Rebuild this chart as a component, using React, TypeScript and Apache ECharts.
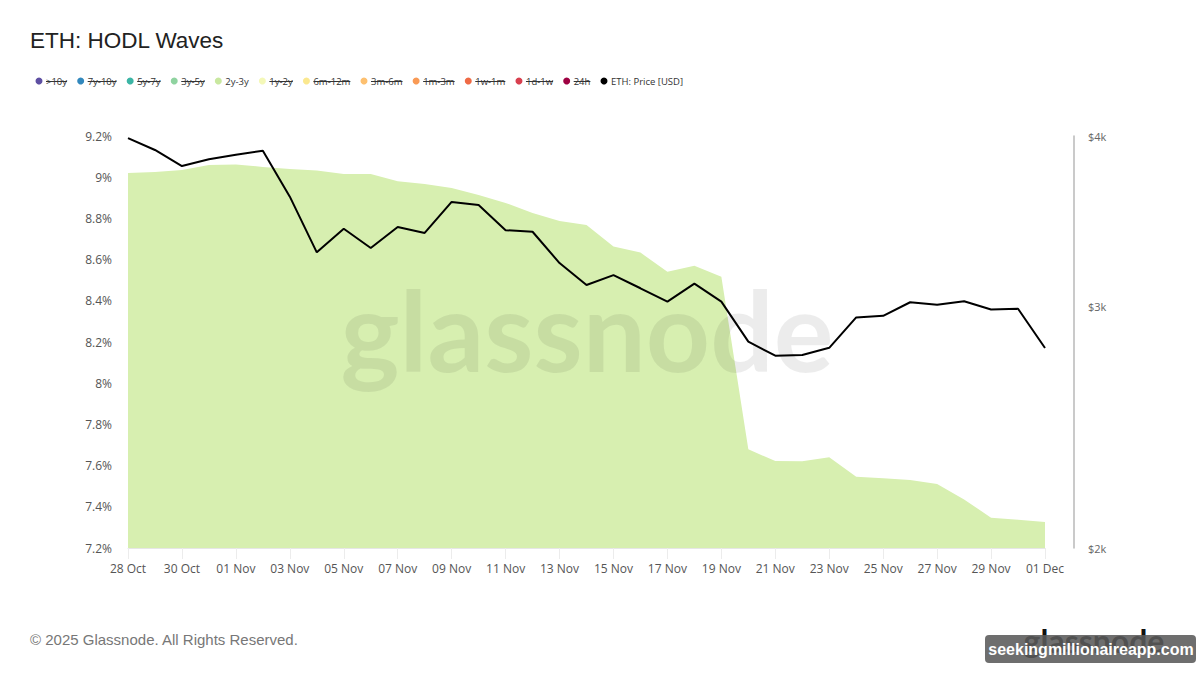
import React, { useEffect, useRef } from 'react';
import * as echarts from 'echarts';

const dates = [
  '28 Oct', '29 Oct', '30 Oct', '31 Oct', '01 Nov', '02 Nov', '03 Nov', '04 Nov', '05 Nov', '06 Nov',
  '07 Nov', '08 Nov', '09 Nov', '10 Nov', '11 Nov', '12 Nov', '13 Nov', '14 Nov', '15 Nov', '16 Nov',
  '17 Nov', '18 Nov', '19 Nov', '20 Nov', '21 Nov', '22 Nov', '23 Nov', '24 Nov', '25 Nov', '26 Nov',
  '27 Nov', '28 Nov', '29 Nov', '30 Nov', '01 Dec',
];

// 2y-3y supply share (%)
const hodl2y3y = [
  9.02, 9.025, 9.035, 9.059, 9.062, 9.05, 9.04, 9.033, 9.015, 9.015,
  8.98, 8.967, 8.948, 8.914, 8.875, 8.826, 8.787, 8.768, 8.663, 8.634,
  8.541, 8.57, 8.517, 7.679, 7.622, 7.621, 7.64, 7.546, 7.538, 7.53,
  7.511, 7.436, 7.347, 7.337, 7.326,
];

// ETH price (USD)
const ethPrice = [
  3986, 3907, 3803, 3846, 3876, 3902, 3612, 3289, 3422, 3313,
  3432, 3398, 3580, 3562, 3414, 3405, 3230, 3113, 3165, 3096,
  3027, 3120, 3027, 2830, 2764, 2767, 2801, 2948, 2956, 3024,
  3011, 3029, 2987, 2991, 2800,
];

const priceTicks = [2000, 3000, 4000];
const pctMin = 7.2;
const pctMax = 9.2;
const pctStep = 0.2;

const legendNames = ['>10y', '7y-10y', '5y-7y', '3y-5y', '2y-3y', '1y-2y', '6m-12m', '3m-6m', '1m-3m', '1w-1m', '1d-1w', '24h', 'ETH: Price [USD]'];
const legendColors = ['#5e4fa2', '#3288bd', '#3cb5a5', '#8fd3a0', '#c9e8a0', '#f4f8b8', '#fbe88f', '#fdc070', '#f99a55', '#ef6a45', '#d8404f', '#9e0142', '#000000'];
const legendActive = [false, false, false, false, true, false, false, false, false, false, false, false, true];

const AREA_COLOR = '#d7efb0';
const SANS = '"Open Sans", "Noto Sans", sans-serif';
const ARIAL = '"Liberation Sans", Arial, sans-serif';
const LEGEND_FONT = '9.5px "Open Sans", "Noto Sans", sans-serif';

function measure(text: string, font: string): number {
  const c = document.createElement('canvas');
  const ctx = c.getContext('2d');
  if (!ctx) return text.length * 5;
  ctx.font = font;
  return ctx.measureText(text).width;
}

export default function App() {
  const ref = useRef<HTMLDivElement>(null);

  useEffect(() => {
    if (!ref.current) return;
    const chart = echarts.init(ref.current, undefined, { renderer: 'svg' });

    // legend layout: first dot at 39, last dot at 604, evenly gapped
    const firstDot = 39;
    const lastDot = 604;
    const textOffset = 7;
    const widths = legendNames.map((n) => measure(n, LEGEND_FONT));
    let used = 0;
    for (let i = 0; i < legendNames.length - 1; i++) used += textOffset + widths[i];
    const gap = (lastDot - firstDot - used) / (legendNames.length - 1);

    const legendGraphics: any[] = [];
    let dx = firstDot;
    legendNames.forEach((name, i) => {
      const tx = dx + textOffset;
      legendGraphics.push({
        type: 'circle',
        shape: { cx: dx, cy: 81, r: 3.5 },
        style: { fill: legendColors[i] },
        silent: true,
      });
      legendGraphics.push({
        type: 'text',
        x: tx,
        y: 81,
        style: {
          text: name,
          fill: '#333',
          font: LEGEND_FONT,
          verticalAlign: 'middle',
          align: 'left',
        },
        silent: true,
      });
      if (!legendActive[i]) {
        legendGraphics.push({
          type: 'line',
          shape: { x1: tx, y1: 81.5, x2: tx + widths[i], y2: 81.5 },
          style: { stroke: '#333', lineWidth: 1 },
          silent: true,
        });
      }
      dx = tx + widths[i] + gap;
    });

    const option: any = {
      animation: false,
      backgroundColor: '#ffffff',
      title: {
        text: 'ETH: HODL Waves',
        left: 25,
        top: 24,
        textStyle: { fontFamily: ARIAL, fontSize: 22.5, fontWeight: 'normal', color: '#222' },
      },
      grid: { left: 128, right: 155, top: 136, bottom: 127, containLabel: false },
      xAxis: {
        type: 'category',
        data: dates,
        boundaryGap: false,
        axisLine: { show: true, lineStyle: { color: '#e6e6e6' } },
        axisTick: { show: true, interval: 1, length: 11, lineStyle: { color: '#ececec' } },
        axisLabel: { interval: 1, margin: 14, color: '#555', fontSize: 12, fontFamily: SANS },
        splitLine: { show: false },
      },
      yAxis: [
        {
          type: 'value',
          min: pctMin,
          max: pctMax,
          interval: pctStep,
          position: 'left',
          axisLine: { show: false },
          axisTick: { show: false },
          splitLine: { show: false },
          axisLabel: {
            margin: 16,
            color: '#555',
            fontSize: 12,
            fontFamily: SANS,
            formatter: (v: number) => parseFloat(v.toFixed(1)) + '%',
          },
        },
        {
          type: 'value',
          min: Math.log(priceTicks[0]),
          max: Math.log(priceTicks[priceTicks.length - 1]),
          position: 'right',
          offset: 29,
          axisLine: { show: true, lineStyle: { color: '#b8b8b8', width: 1.5 } },
          axisTick: { show: false },
          splitLine: { show: false },
          axisLabel: {
            customValues: priceTicks.map((p) => Math.log(p)),
            margin: 14,
            color: '#666',
            fontSize: 11,
            fontFamily: SANS,
            formatter: (v: number) => '$' + Math.round(Math.exp(v) / 1000) + 'k',
          },
        },
      ],
      series: [
        {
          name: '2y-3y',
          type: 'line',
          yAxisIndex: 0,
          data: hodl2y3y,
          symbol: 'none',
          lineStyle: { width: 0 },
          areaStyle: { color: AREA_COLOR, opacity: 1 },
          z: 2,
        },
        {
          name: 'ETH: Price [USD]',
          type: 'line',
          yAxisIndex: 1,
          data: ethPrice.map((p) => Math.log(p)),
          symbol: 'none',
          lineStyle: { color: '#000', width: 2 },
          z: 10,
        },
      ],
      graphic: [
        {
          type: 'text',
          x: 587,
          y: 328,
          z: 5,
          silent: true,
          style: {
            text: 'glassnode',
            fill: 'rgba(0,0,0,0.075)',
            font: 'bold 112px Lato, "Open Sans", sans-serif',
            align: 'center',
            verticalAlign: 'middle',
          },
        },
        ...legendGraphics,
        {
          type: 'text',
          x: 30,
          y: 639,
          silent: true,
          style: {
            text: '© 2025 Glassnode. All Rights Reserved.',
            fill: '#777',
            font: '15px "Liberation Sans", Arial, sans-serif',
            verticalAlign: 'middle',
          },
        },
        {
          type: 'text',
          x: 1094,
          y: 640,
          silent: true,
          style: {
            text: 'glassnode',
            fill: '#111',
            font: 'bold 32px Lato, "Open Sans", sans-serif',
            align: 'center',
            verticalAlign: 'middle',
          },
        },
        {
          type: 'rect',
          shape: { x: 985, y: 635, width: 211, height: 28, r: 4 },
          style: { fill: 'rgba(90,90,90,0.88)' },
          silent: true,
        },
        {
          type: 'text',
          x: 1091,
          y: 649,
          silent: true,
          style: {
            text: 'seekingmillionaireapp.com',
            fill: '#ffffff',
            font: 'bold 16px "Liberation Sans", Arial, sans-serif',
            align: 'center',
            verticalAlign: 'middle',
          },
        },
      ],
    };

    chart.setOption(option);
    return () => chart.dispose();
  }, []);

  return (
    <div
      ref={ref}
      style={{ position: 'fixed', left: 0, top: 0, width: 1200, height: 675, background: '#fff' }}
    />
  );
}
